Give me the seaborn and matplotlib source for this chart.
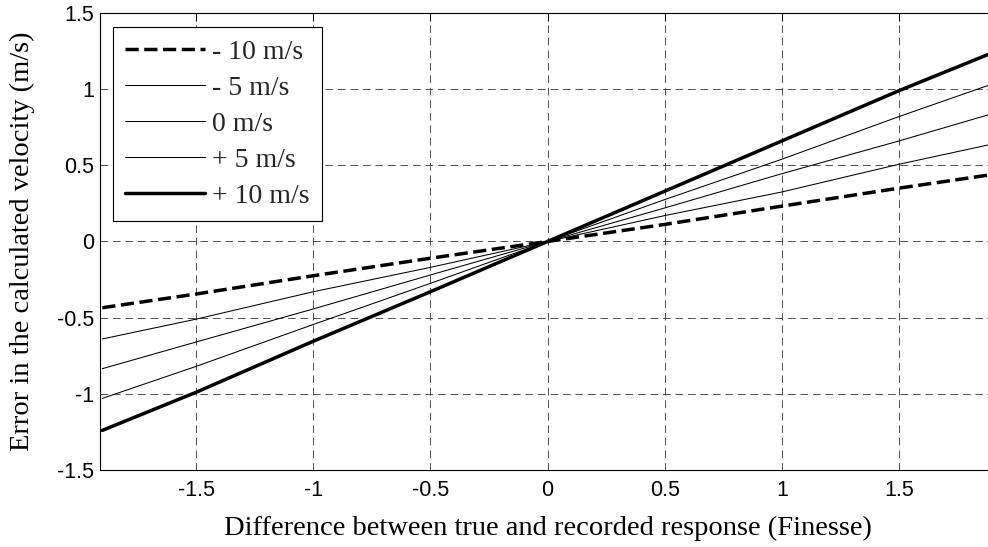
import numpy as np
import pandas as pd
import matplotlib
matplotlib.use("Agg")
import matplotlib.pyplot as plt
import seaborn as sns
from matplotlib.ticker import FormatStrFormatter

# ===============================
# DATA
# ===============================
x_finesse = [-1.9, -1.5, -1.0, -0.5, 0.0, 0.5, 1.0, 1.5, 1.9]

err_minus10 = [-0.435, -0.345, -0.225, -0.110, 0.0, 0.112, 0.232, 0.350, 0.440]
err_minus5 = [-0.640, -0.510, -0.330, -0.170, 0.0, 0.170, 0.325, 0.507, 0.640]
err_zero = [-0.835, -0.660, -0.443, -0.220, 0.0, 0.220, 0.445, 0.660, 0.840]
err_plus5 = [-1.030, -0.820, -0.545, -0.275, 0.0, 0.275, 0.540, 0.820, 1.035]
err_plus10 = [-1.240, -0.990, -0.655, -0.330, 0.0, 0.330, 0.660, 0.990, 1.240]

series_labels = ["- 10 m/s", "- 5 m/s", "0 m/s", "+ 5 m/s", "+ 10 m/s"]
x_ticks = [-1.5, -1, -0.5, 0, 0.5, 1, 1.5]
y_ticks = [-1.5, -1, -0.5, 0, 0.5, 1, 1.5]

# ===============================
# STYLE
# ===============================
sns.set_theme(style="white")
plt.rcParams['font.family'] = ['Liberation Sans', 'DejaVu Sans']
plt.rcParams['axes.unicode_minus'] = False
plt.rcParams['lines.scale_dashes'] = False

df = pd.DataFrame({
    "x": x_finesse * 5,
    "err": err_minus10 + err_minus5 + err_zero + err_plus5 + err_plus10,
    "speed": [lab for lab in series_labels for _ in x_finesse],
})

line_styles = {
    "- 10 m/s": dict(linewidth=2.5, dashes=(9.5, 4)),
    "- 5 m/s": dict(linewidth=0.75),
    "0 m/s": dict(linewidth=0.75),
    "+ 5 m/s": dict(linewidth=0.75),
    "+ 10 m/s": dict(linewidth=2.5),
}

fig = plt.figure(figsize=(9.88, 5.47), dpi=100)
ax = fig.add_axes([0.1012, 0.1408, 0.906, 0.8355])

for lab in series_labels:
    sub = df[df["speed"] == lab]
    sns.lineplot(data=sub, x="x", y="err", ax=ax, color="black",
                 label=lab, **line_styles[lab])

ax.set_xlim(-1.91, 1.91)
ax.set_ylim(-1.5, 1.5)
ax.set_xticks(x_ticks)
ax.set_yticks(y_ticks)
ax.xaxis.set_major_formatter(FormatStrFormatter('%g'))
ax.yaxis.set_major_formatter(FormatStrFormatter('%g'))
ax.tick_params(direction='in', length=6, width=0.75, colors='black',
               top=True, right=True, labelsize=15.5)
ax.tick_params(axis='x', pad=7)
ax.tick_params(axis='y', pad=4)

ax.grid(True, color='0.2', linewidth=0.6, linestyle=(0, (5.5, 3.5)))
for sp in ax.spines.values():
    sp.set_color('black')
    sp.set_linewidth(0.8)

ax.set_xlabel("Difference between true and recorded response (Finesse)",
              family=['Liberation Serif'], fontsize=20.5, color='black', labelpad=11)
ax.set_ylabel("Error in the calculated velocity (m/s)",
              family=['Liberation Serif'], fontsize=20.5, color='black', labelpad=16)

leg = ax.legend(loc='upper left', bbox_to_anchor=(0.0145, 0.97), borderaxespad=0,
                prop={'family': 'Liberation Serif', 'size': 20},
                handlelength=2.85, handletextpad=0.25, labelspacing=0.38,
                borderpad=0.45, fancybox=False, framealpha=1, edgecolor='black')
leg.get_frame().set_linewidth(0.8)

fig.savefig("out.png", dpi=100)
